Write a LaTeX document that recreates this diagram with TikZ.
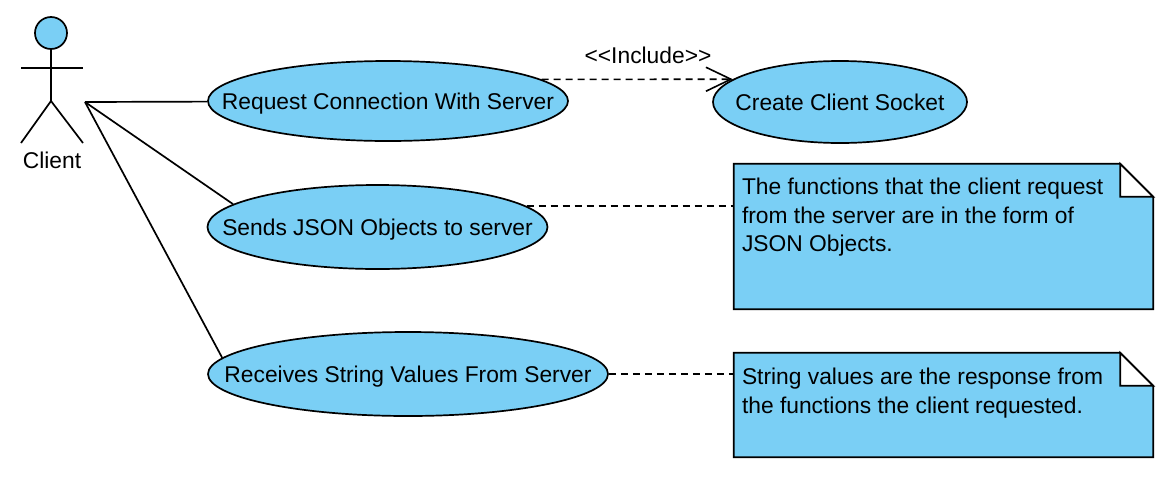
\documentclass[tikz,border=0pt]{standalone}
\usepackage{fontspec}
\newfontfamily\umlfont{Liberation Sans}
\usetikzlibrary{arrows.meta,shapes.geometric,calc}
\definecolor{ucblue}{RGB}{122,207,245}
\begin{document}
\begin{tikzpicture}[x=1pt,y=-1pt,
  every node/.style={font=\umlfont\fontsize{22.8}{28.5}\selectfont},
  line/.style={line width=1.7pt},
  ucase/.style={ellipse, draw, line width=1.7pt, fill=ucblue, inner sep=0pt},
  uclabel/.style={text height=16.4pt, text depth=4.8pt, yshift=-3pt},
  notebox/.style={inner sep=0pt, minimum width=419pt},
  notetext/.style={anchor=north west, inner sep=0pt, align=left},
  dashline/.style={line width=1.6pt, dash pattern=on 7pt off 5pt},
]
\useasboundingbox (0,0) rectangle (1170,488);

% actor
\node[circle, draw, line width=1.7pt, fill=ucblue, minimum size=32pt, inner sep=0pt] (head) at (51,33) {};
\coordinate (hip) at (51,101);
\coordinate (handl) at (21,68);
\coordinate (handr) at (83,68);
\coordinate (footl) at (21,143);
\coordinate (footr) at (83,143);
\draw[line] (head.south) -- (hip);
\draw[line] (handl) -- (handr);
\draw[line] (footl) -- (hip) -- (footr);
\node (actorlabel) at (52,160) {Client};
\coordinate (act) at (85,102);

% use cases
\node[ucase, minimum width=360pt, minimum height=80pt, label={[uclabel]center:Request Connection With Server}] (e1) at (388,101) {};
\node[ucase, minimum width=254pt, minimum height=82pt, label={[uclabel]center:Create Client Socket}] (e2) at (840,102) {};
\node[ucase, minimum width=340pt, minimum height=84pt, label={[uclabel]center:Sends JSON Objects to server}] (e3) at (377.5,227) {};
\node[ucase, minimum width=400pt, minimum height=84pt, label={[uclabel]center:Receives String Values From Server}] (e4) at (408,374) {};

% notes
\node[notebox, minimum height=145pt] (n1) at (943.5,236.5) {};
\draw[line, fill=ucblue] (n1.north west) -- ($(n1.north east)+(-33,0)$) -- ($(n1.north east)+(0,33)$) -- (n1.south east) -- (n1.south west) -- cycle;
\draw[line, fill=white] ($(n1.north east)+(-33,0)$) -- ($(n1.north east)+(-33,33)$) -- ($(n1.north east)+(0,33)$) -- cycle;
\node[notetext] (t1) at ($(n1.north west)+(8,14)$) {The functions that the client request\\from the server are in the form of\\JSON Objects.};

\node[notebox, minimum height=104pt] (n2) at (943.5,405) {};
\draw[line, fill=ucblue] (n2.north west) -- ($(n2.north east)+(-33,0)$) -- ($(n2.north east)+(0,33)$) -- (n2.south east) -- (n2.south west) -- cycle;
\draw[line, fill=white] ($(n2.north east)+(-33,0)$) -- ($(n2.north east)+(-33,33)$) -- ($(n2.north east)+(0,33)$) -- cycle;
\node[notetext] (t2) at ($(n2.north west)+(8,15)$) {String values are the response from\\the functions the client requested.};

% connectors
\draw[line] (act) -- (e1);
\draw[line] (act) -- (e3.171);
\draw[line] (act) -- (e4.175);
\draw[dashline, -{Straight Barb[length=25pt,width=24pt]}] (e1.8) -- (e2.168);
\node[anchor=base] (inc) at (648,63) {<<Include>>};
\draw[dashline] (e3.8) -- (e3.8 -| n1.west);
\draw[dashline] (e4.east) -- (e4.east -| n2.west);
\end{tikzpicture}
\end{document}
